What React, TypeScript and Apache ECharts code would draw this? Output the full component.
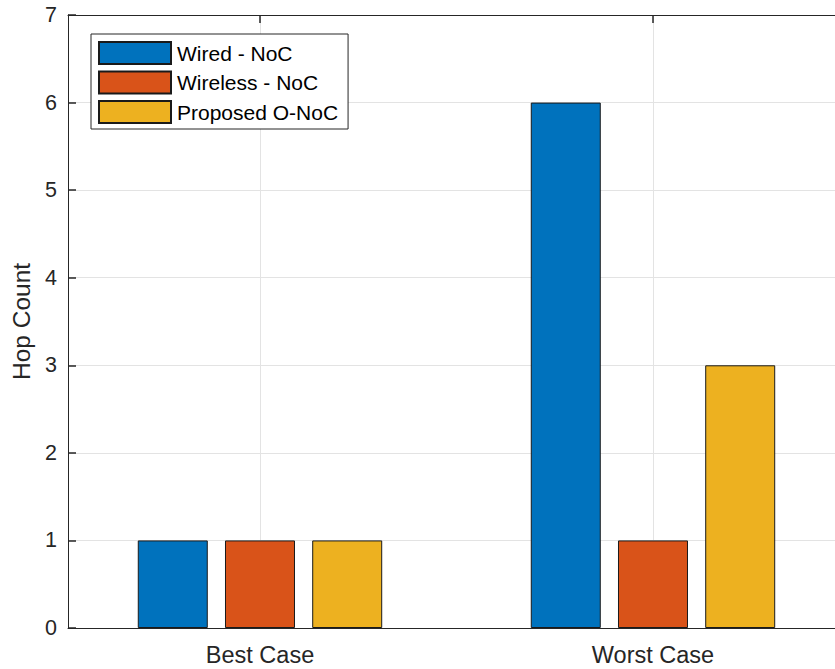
import React, { useEffect, useRef } from "react";
import * as echarts from "echarts";

const categories = ["Best Case", "Worst Case"];
const categoryPositions = [1, 2];
const seriesNames = ["Wired - NoC", "Wireless - NoC", "Proposed O-NoC"];
const wiredValues = [1, 6];
const wirelessValues = [1, 1];
const proposedValues = [1, 3];
const seriesColors = ["#0072BD", "#D95319", "#EDB120"];
const yTicks = [0, 1, 2, 3, 4, 5, 6, 7];

const FONT = "'Liberation Sans', Arial, Helvetica, sans-serif";
const AXIS_COLOR = "#262626";

export default function App() {
  const ref = useRef<HTMLDivElement>(null);

  useEffect(() => {
    if (!ref.current) return;
    const chart = echarts.init(ref.current, null, { renderer: "svg" });
    const allValues = [wiredValues, wirelessValues, proposedValues];
    const xMin = 0.5115;
    const xMax = 2.4631;
    const labelFor = (v: number) => {
      const i = categoryPositions.indexOf(Math.round(v));
      return i >= 0 ? categories[i] : "";
    };
    chart.setOption({
      animation: false,
      textStyle: { fontFamily: FONT },
      grid: { left: 68, right: 0, top: 15, bottom: 41, containLabel: false },
      legend: {
        orient: "vertical",
        left: 91,
        top: 34,
        padding: [7, 10, 5, 7],
        itemGap: 5.5,
        itemWidth: 72,
        itemHeight: 22,
        backgroundColor: "#ffffff",
        borderColor: AXIS_COLOR,
        borderWidth: 1,
        borderRadius: 0,
        icon: "rect",
        textStyle: {
          fontSize: 21,
          color: "#000000",
          fontFamily: FONT,
          padding: [0, 0, 0, 1],
        },
        data: seriesNames,
      },
      xAxis: [
        {
          type: "value",
          position: "bottom",
          min: xMin,
          max: xMax,
          axisLine: { show: true, lineStyle: { color: AXIS_COLOR, width: 1 } },
          axisTick: {
            show: true,
            inside: true,
            length: 8,
            customValues: categoryPositions,
            lineStyle: { color: AXIS_COLOR, width: 1.5 },
          },
          axisLabel: {
            customValues: categoryPositions,
            formatter: (v: number) => labelFor(v),
            fontSize: 23.5,
            color: AXIS_COLOR,
            margin: 15,
            fontFamily: FONT,
          },
          splitLine: { show: true, lineStyle: { color: "#e3e3e3", width: 1 } },
        },
        {
          type: "value",
          position: "top",
          min: xMin,
          max: xMax,
          axisLine: { show: true, onZero: false, lineStyle: { color: AXIS_COLOR, width: 1 } },
          axisTick: {
            show: true,
            inside: true,
            length: 8,
            customValues: categoryPositions,
            lineStyle: { color: AXIS_COLOR, width: 1.5 },
          },
          axisLabel: { show: false },
          splitLine: { show: false },
        },
      ],
      yAxis: {
        type: "value",
        min: yTicks[0],
        max: yTicks[yTicks.length - 1],
        interval: 1,
        name: "Hop Count",
        nameLocation: "middle",
        nameGap: 33,
        nameTextStyle: { fontSize: 24.5, color: AXIS_COLOR, fontFamily: FONT },
        axisLine: { show: true, lineStyle: { color: AXIS_COLOR, width: 1 } },
        axisTick: { show: true, inside: true, length: 8, lineStyle: { color: AXIS_COLOR, width: 1.5 } },
        axisLabel: { fontSize: 21.5, color: AXIS_COLOR, margin: 11, fontFamily: FONT },
        splitLine: { show: true, lineStyle: { color: "#e3e3e3", width: 1 } },
      },
      series: seriesNames.map((name, s) => ({
        name,
        type: "bar",
        xAxisIndex: 0,
        barWidth: 70,
        barGap: "24.6%",
        itemStyle: { color: seriesColors[s], borderColor: "#1a1a1a", borderWidth: 1 },
        data: categoryPositions.map((x, i) => [x, allValues[s][i]]),
      })),
    });
    return () => chart.dispose();
  }, []);

  return (
    <div
      ref={ref}
      style={{ position: "fixed", left: 0, top: 0, width: 835, height: 669, background: "#ffffff" }}
    />
  );
}
